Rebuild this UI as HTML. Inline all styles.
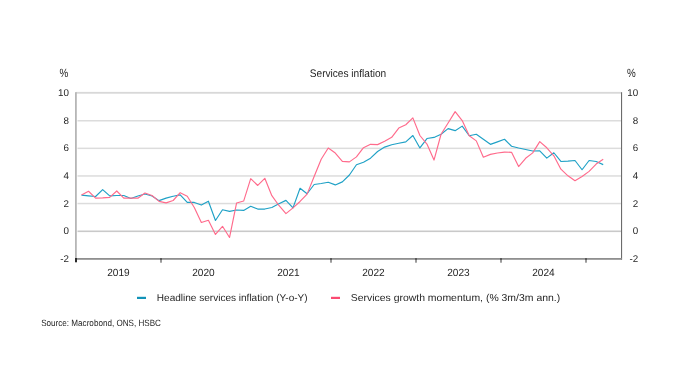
<!DOCTYPE html>
<html><head><meta charset="utf-8"><style>
html,body{margin:0;padding:0;background:#fff;width:696px;height:390px;overflow:hidden}
svg{display:block;font-family:"Liberation Sans", sans-serif;will-change:transform;text-rendering:geometricPrecision}
</style></head><body>
<svg width="696" height="390" viewBox="0 0 696 390">
<rect width="696" height="390" fill="#fff"/>
<rect x="77.5" y="120.00" width="543.5" height="1.5" fill="#dcdcdc"/>
<rect x="77.5" y="147.60" width="543.5" height="1.5" fill="#dcdcdc"/>
<rect x="77.5" y="175.20" width="543.5" height="1.5" fill="#dcdcdc"/>
<rect x="77.5" y="202.80" width="543.5" height="1.5" fill="#dcdcdc"/>
<rect x="77.5" y="230.50" width="543.5" height="1.6" fill="#c9c9c9"/>
<rect x="76" y="91.9" width="545" height="1.8" fill="#d8d8d8"/>
<rect x="75" y="92.2" width="1.8" height="167.6" fill="#b6b6b6"/>
<rect x="621" y="92.2" width="1.1" height="167.6" fill="#6c6c6c"/>
<rect x="75" y="258" width="546.8" height="1.8" fill="#8f8f8f"/>
<rect x="75" y="258" width="2" height="4.3" fill="#2a2a2a"/>
<rect x="160" y="258.5" width="2" height="4.2" fill="#9a9a9a"/>
<rect x="160" y="258" width="2" height="2" fill="#5a5a5a"/>
<rect x="330" y="258.5" width="2" height="4.2" fill="#9a9a9a"/>
<rect x="330" y="258" width="2" height="2" fill="#5a5a5a"/>
<rect x="415" y="258.5" width="2" height="4.2" fill="#9a9a9a"/>
<rect x="415" y="258" width="2" height="2" fill="#5a5a5a"/>
<rect x="500" y="258.5" width="2" height="4.2" fill="#9a9a9a"/>
<rect x="500" y="258" width="2" height="2" fill="#5a5a5a"/>
<rect x="585" y="258.5" width="2" height="4.2" fill="#9a9a9a"/>
<rect x="585" y="258" width="2" height="2" fill="#5a5a5a"/>
<polyline points="81.50,195.12 88.55,195.81 95.60,196.50 102.65,189.60 109.70,195.81 116.75,195.53 123.80,195.53 130.85,198.43 137.90,195.95 144.95,194.02 152.00,195.95 159.05,200.64 166.10,198.16 173.15,196.22 180.20,194.84 187.25,202.43 194.30,202.43 201.35,205.06 208.40,201.19 215.45,220.51 222.50,209.75 229.55,211.40 236.60,210.02 243.65,210.44 250.70,206.30 257.75,209.06 264.80,209.06 271.85,207.54 278.90,203.81 285.95,200.36 293.00,207.82 300.05,188.22 307.10,193.74 314.15,184.49 321.20,183.53 328.25,182.29 335.30,184.91 342.35,181.87 349.40,174.97 356.45,164.76 363.50,162.28 370.55,158.14 377.60,151.51 384.65,147.10 391.70,144.75 398.75,143.23 405.80,141.85 412.85,135.50 419.90,147.92 426.95,138.54 434.00,137.44 441.05,134.26 448.10,128.60 455.15,130.67 462.20,126.12 469.25,135.78 476.30,134.26 483.35,139.23 490.40,144.34 497.45,141.85 504.50,139.23 511.55,146.27 518.60,148.06 525.65,149.44 532.70,150.96 539.75,150.82 546.80,158.14 553.85,152.75 560.90,161.45 567.95,161.17 575.00,160.48 582.05,169.73 589.10,160.48 596.15,161.45 603.20,164.62" fill="none" stroke="#1fa1c6" stroke-width="1.15" stroke-linejoin="round"/>
<polyline points="81.50,195.12 88.55,191.26 95.60,198.16 102.65,197.88 109.70,197.33 116.75,190.98 123.80,198.16 130.85,198.16 137.90,198.16 144.95,193.05 152.00,195.53 159.05,201.33 166.10,202.85 173.15,200.50 180.20,192.64 187.25,196.22 194.30,207.54 201.35,222.44 208.40,220.24 215.45,234.45 222.50,226.31 229.55,237.49 236.60,202.99 243.65,201.05 250.70,178.70 257.75,185.46 264.80,178.28 271.85,195.67 278.90,205.47 285.95,213.61 293.00,207.82 300.05,201.47 307.10,194.15 314.15,176.49 321.20,159.24 328.25,148.06 335.30,153.03 342.35,161.31 349.40,161.86 356.45,156.89 363.50,147.65 370.55,144.34 377.60,144.61 384.65,141.30 391.70,137.30 398.75,128.05 405.80,124.74 412.85,117.84 419.90,135.50 426.95,144.06 434.00,160.07 441.05,134.26 448.10,122.95 455.15,111.63 462.20,120.60 469.25,135.78 476.30,140.89 483.35,157.17 490.40,154.41 497.45,153.03 504.50,152.06 511.55,152.34 518.60,166.55 525.65,158.27 532.70,152.89 539.75,141.58 546.80,147.79 553.85,155.79 560.90,169.18 567.95,175.80 575.00,180.77 582.05,176.49 589.10,171.38 596.15,164.07 603.20,159.24" fill="none" stroke="#ff6b8c" stroke-width="1.15" stroke-linejoin="round"/>
<text x="348" y="76.6" font-size="11" text-anchor="middle" fill="#262626" textLength="76.5" lengthAdjust="spacingAndGlyphs">Services inflation</text>
<text transform="translate(59.6 77.1) scale(0.82 1)" font-size="12" text-anchor="start" fill="#262626">%</text>
<text transform="translate(627.1 77.1) scale(0.82 1)" font-size="12" text-anchor="start" fill="#262626">%</text>
<text x="69.0" y="96.20" font-size="9.8" text-anchor="end" fill="#262626">10</text>
<text x="638.2" y="96.20" font-size="9.8" text-anchor="end" fill="#262626">10</text>
<text x="69.0" y="123.80" font-size="9.8" text-anchor="end" fill="#262626">8</text>
<text x="638.2" y="123.80" font-size="9.8" text-anchor="end" fill="#262626">8</text>
<text x="69.0" y="151.40" font-size="9.8" text-anchor="end" fill="#262626">6</text>
<text x="638.2" y="151.40" font-size="9.8" text-anchor="end" fill="#262626">6</text>
<text x="69.0" y="179.00" font-size="9.8" text-anchor="end" fill="#262626">4</text>
<text x="638.2" y="179.00" font-size="9.8" text-anchor="end" fill="#262626">4</text>
<text x="69.0" y="206.60" font-size="9.8" text-anchor="end" fill="#262626">2</text>
<text x="638.2" y="206.60" font-size="9.8" text-anchor="end" fill="#262626">2</text>
<text x="69.0" y="234.20" font-size="9.8" text-anchor="end" fill="#262626">0</text>
<text x="638.2" y="234.20" font-size="9.8" text-anchor="end" fill="#262626">0</text>
<text x="69.0" y="261.80" font-size="9.8" text-anchor="end" fill="#262626">-2</text>
<text x="638.2" y="261.80" font-size="9.8" text-anchor="end" fill="#262626">-2</text>
<text x="118.4" y="276.2" font-size="10.4" text-anchor="middle" fill="#262626" textLength="22.5" lengthAdjust="spacingAndGlyphs">2019</text>
<text x="203.4" y="276.2" font-size="10.4" text-anchor="middle" fill="#262626" textLength="22.5" lengthAdjust="spacingAndGlyphs">2020</text>
<text x="288.4" y="276.2" font-size="10.4" text-anchor="middle" fill="#262626" textLength="22.5" lengthAdjust="spacingAndGlyphs">2021</text>
<text x="373.4" y="276.2" font-size="10.4" text-anchor="middle" fill="#262626" textLength="22.5" lengthAdjust="spacingAndGlyphs">2022</text>
<text x="458.4" y="276.2" font-size="10.4" text-anchor="middle" fill="#262626" textLength="22.5" lengthAdjust="spacingAndGlyphs">2023</text>
<text x="543.4" y="276.2" font-size="10.4" text-anchor="middle" fill="#262626" textLength="22.5" lengthAdjust="spacingAndGlyphs">2024</text>
<rect x="137" y="296.8" width="9" height="2.2" fill="#1293b8"/>
<text x="156.8" y="300.9" font-size="10" text-anchor="start" fill="#262626" textLength="150.8" lengthAdjust="spacingAndGlyphs">Headline services inflation (Y-o-Y)</text>
<rect x="331" y="296.8" width="9" height="2.2" fill="#fb4a72"/>
<text x="350.7" y="300.9" font-size="10" text-anchor="start" fill="#262626" textLength="209.5" lengthAdjust="spacingAndGlyphs">Services growth momentum, (% 3m/3m ann.)</text>
<text x="41.2" y="325.6" font-size="9.1" text-anchor="start" fill="#262626" textLength="119.8" lengthAdjust="spacingAndGlyphs">Source: Macrobond, ONS, HSBC</text>
</svg>
</body></html>
